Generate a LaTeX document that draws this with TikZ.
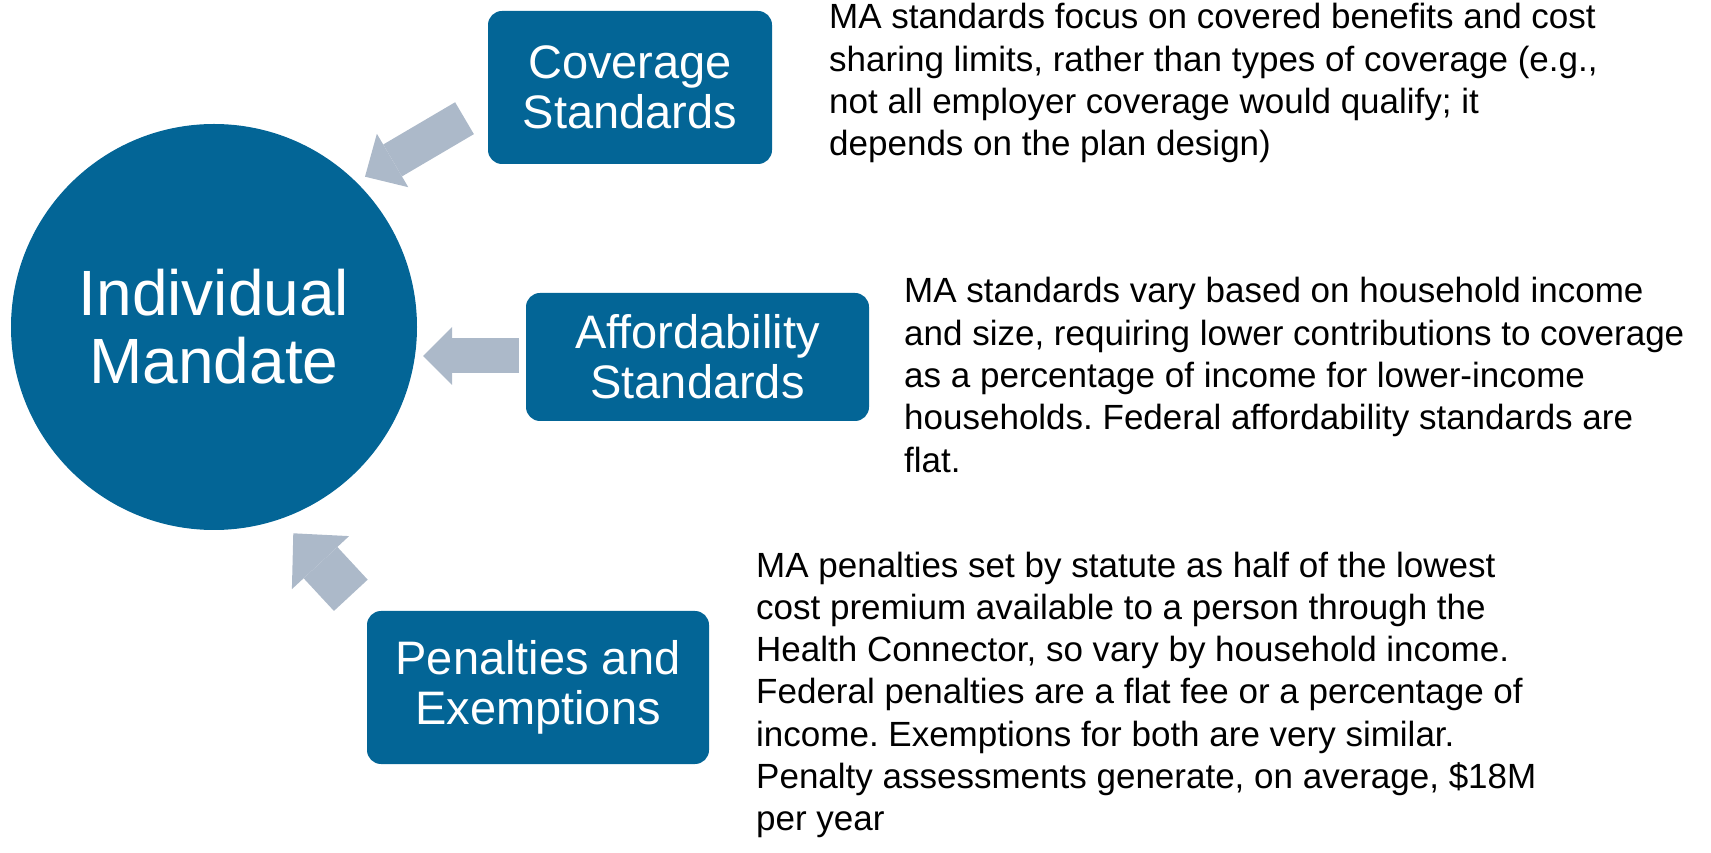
\documentclass[tikz,border=0pt]{standalone}
\usepackage{fontspec}
\setmainfont{Liberation Sans}
\usetikzlibrary{positioning}
\usetikzlibrary{arrows.meta}
\frenchspacing

\definecolor{mandateblue}{RGB}{3,101,150}
\definecolor{pointergray}{RGB}{172,185,201}

\begin{document}
\begin{tikzpicture}[x = 1pt, y = 1pt,
		topic/.style = {fill = mandateblue, text = white, rounded corners = 14pt, align = center, inner sep = 0pt, font = \fontsize{47}{50}\selectfont},
		note/.style = {anchor = base west, align = left, inner sep = 0pt, font = \fontsize{35}{42.3}\selectfont},
		pointer/.style n args = {3}{draw = pointergray, line width = #1, -{Triangle[width = #2, length = #3, line width = 0pt]}}]
	\useasboundingbox (0, 0) rectangle (1711, 852);
	% the mandate and the three pieces feeding it
	\node [circle, fill = mandateblue, text = white, minimum size = 406pt, inner sep = 0pt, align = center, font = \fontsize{64}{68}\selectfont] (mandate) at (214, 525) {Individual\\Mandate};
	\node [topic, minimum width = 284pt, minimum height = 153pt] (coverage) at (630, 764.5) {Coverage\\Standards};
	\node [topic, minimum width = 343pt, minimum height = 128pt] (afford) at (697.5, 495) {Affordability\\Standards};
	\node [topic, minimum width = 342pt, minimum height = 153pt] (penalty) at (538, 164.5) {Penalties and\\Exemptions};
	% block arrows
	\coordinate (coverage-tail) at (464.5, 733.8);
	\coordinate (coverage-tip) at (365, 675.3);
	\coordinate (afford-tail) at (519, 496);
	\coordinate (afford-tip) at (423, 496);
	\coordinate (penalty-tail) at (350.8, 256.7);
	\coordinate (penalty-tip) at (293.3, 318.7);
	\draw [pointer = {37pt}{62pt}{32pt}] (coverage-tail) -- (coverage-tip);
	\draw [pointer = {35pt}{58pt}{29pt}] (afford-tail) -- (afford-tip);
	\draw [pointer = {46pt}{78pt}{40pt}] (penalty-tail) -- (penalty-tip);
	% notes, placed by the baseline of their last line
	\node [note] (coverage-note) at (829, 696.1) {MA standards focus on covered benefits and cost\\sharing limits, rather than types of coverage (e.g.,\\not all employer coverage would qualify; it\\depends on the plan design)};
	\node [note] (afford-note) at (904, 379.8) {MA standards vary based on household income\\and size, requiring lower contributions to coverage\\as a percentage of income for lower-income\\households. Federal affordability standards are\\flat.};
	\node [note] (penalty-note) at (756, 21.2) {MA penalties set by statute as half of the lowest\\cost premium available to a person through the\\Health Connector, so vary by household income.\\Federal penalties are a flat fee or a percentage of\\income. Exemptions for both are very similar.\\Penalty assessments generate, on average, \$18M\\per year};
\end{tikzpicture}
\end{document}
